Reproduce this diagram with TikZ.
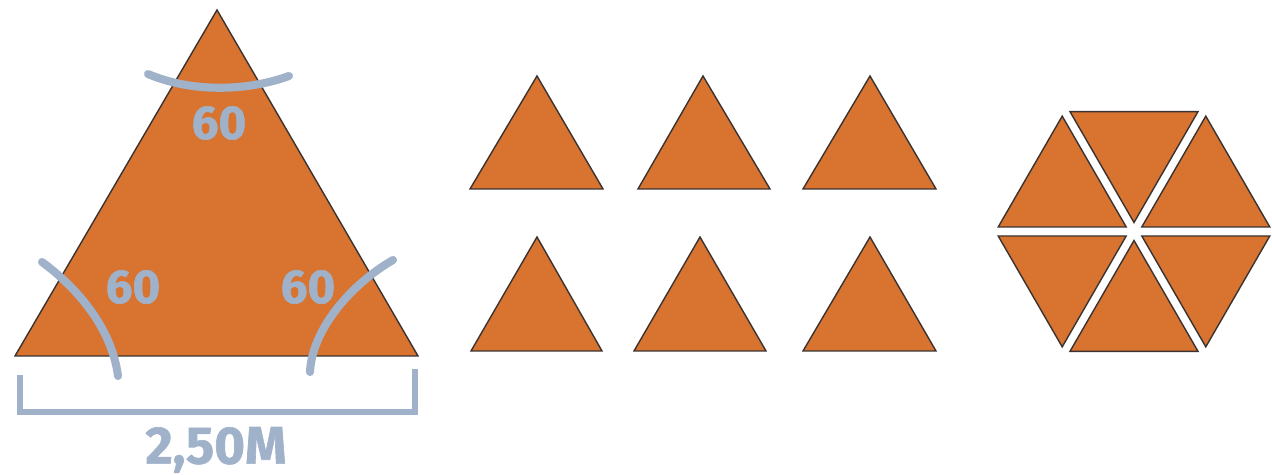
\documentclass[tikz,border=0pt]{standalone}
\usepackage{fontspec}
\newfontfamily\lblfont{Fira Sans}[BoldFeatures={FakeBold=1.2}]
\usetikzlibrary{calc}
\definecolor{tri}{HTML}{D87330}
\definecolor{edge}{HTML}{3A3330}
\definecolor{mark}{HTML}{A0B2CA}
\tikzset{
  tribox/.style={fill=tri, draw=edge, line width=0.8pt, line join=miter},
  arcline/.style={draw=mark, line width=4.6pt, line cap=round},
  brack/.style={draw=mark, line width=3.4pt, line cap=rect, line join=miter},
  angtext/.style={text=mark, font=\lblfont\bfseries\fontsize{27}{30}\selectfont, inner sep=0pt},
  dimtext/.style={text=mark, font=\lblfont\bfseries\fontsize{30}{33}\selectfont, inner sep=0pt}
}
\begin{document}
\begin{tikzpicture}[x=0.02cm, y=-0.02cm]
\useasboundingbox (0,0) rectangle (1272,475);
% big triangle
\filldraw[tribox] (15,356) -- (217,10) -- (418,356) -- cycle;
% angle arcs
\draw[arcline] (148,74) .. controls (190,92) and (245,92) .. (289,76);
\draw[arcline] (42,262) .. controls (80,290) and (112,330) .. (118,376);
\draw[arcline] (393,260) .. controls (350,285) and (312,330) .. (310,372);
\node[angtext] (atop) at (219,123) {60};
\node[angtext] (aleft) at (133,287) {60};
\node[angtext] (aright) at (308,287) {60};
% dimension bracket
\draw[brack] (20,378) -- (20,412) -- (415,412) -- (415,372);
\node[dimtext] (dim) at (216,450) {2,50M};
% small triangles
\filldraw[tribox] (470,189) -- (537,76) -- (603,189) -- cycle;
\filldraw[tribox] (638,189) -- (703,76) -- (770,189) -- cycle;
\filldraw[tribox] (803,189) -- (870,76) -- (936,189) -- cycle;
\filldraw[tribox] (471,351) -- (537,237) -- (602,351) -- cycle;
\filldraw[tribox] (634,351) -- (700,237) -- (766,351) -- cycle;
\filldraw[tribox] (803,351) -- (870,237) -- (936,351) -- cycle;
% hexagon of six triangles
\coordinate (C) at (1134,231.5);
\foreach \a in {30,90,150,210,270,330}{
  \filldraw[tribox] ($(C)+(\a:9)$) -- ($(C)+(\a:9)+(\a-30:128)$) -- ($(C)+(\a:9)+(\a+30:128)$) -- cycle;
}
\end{tikzpicture}
\end{document}
